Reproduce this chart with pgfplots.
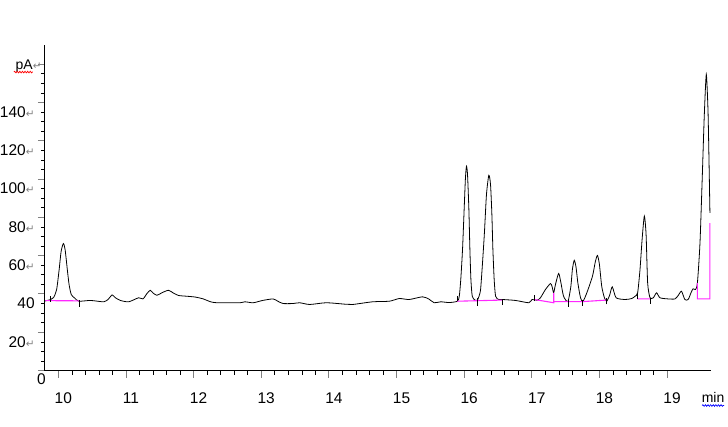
\documentclass[border=0pt]{standalone}
\usepackage{fontspec}
\setmainfont{Liberation Sans}
\newfontfamily\djv{DejaVu Sans}
\usepackage{pgfplots}
\pgfplotsset{compat=1.18}
\usetikzlibrary{decorations.pathmorphing}
\definecolor{base}{RGB}{255,40,255}
\newcommand\ret{{\djv\fontsize{10.5}{10.5}\selectfont\textcolor{gray}{↵}}}

\pgfplotstableread{
t v
9.80 36.3
9.887 37.1
9.93 38.1
9.975 42.3
10.012 52.7
10.041 62.1
10.074 66.3
10.10 63.2
10.133 52.7
10.159 44.9
10.191 39.7
10.24 37.9
10.303 36.2
10.476 36.6
10.672 35.9
10.74 37.3
10.795 39.5
10.84 38.1
10.917 36.6
11.04 35.9
11.187 38.0
11.252 37.4
11.31 40.2
11.359 41.9
11.40 40.5
11.458 39.3
11.536 40.7
11.629 41.9
11.70 40.5
11.776 39.2
11.90 38.8
12.02 38.4
12.144 37.4
12.243 36.0
12.342 35.4
12.685 35.4
12.759 35.9
12.881 35.4
13.02 36.6
13.175 37.4
13.24 36.3
13.322 35.0
13.47 35.0
13.568 35.4
13.716 34.5
13.962 35.4
14.256 34.6
14.353 34.5
14.648 35.9
14.894 36.2
15.041 37.6
15.188 37.1
15.384 38.5
15.48 37.3
15.557 35.4
15.655 35.9
15.778 35.5
15.90 36.2
15.928 38.8
15.95 47.5
15.976 63.2
16.00 84.1
16.018 99.7
16.034 106.7
16.05 102.3
16.07 84.1
16.085 63.2
16.10 47.5
16.12 38.8
16.16 36.8
16.193 36.6
16.218 38.6
16.243 42.3
16.27 55.4
16.30 72.1
16.33 91.9
16.365 102.0
16.39 97.1
16.41 81.5
16.425 63.2
16.444 47.5
16.465 38.8
16.51 37.1
16.562 37.1
16.76 36.6
16.956 35.4
17.004 37.1
17.078 36.7
17.128 38.0
17.202 42.3
17.275 45.4
17.30 43.9
17.323 40.6
17.35 44.9
17.397 50.7
17.43 46.0
17.47 38.8
17.534 36.0
17.578 44.0
17.60 52.7
17.628 57.6
17.655 53.8
17.681 45.8
17.72 38.1
17.755 36.0
17.814 40.6
17.897 49.2
17.94 56.9
17.971 60.1
18.0 55.4
18.034 44.0
18.074 38.0
18.108 36.2
18.15 39.2
18.19 43.7
18.247 38.0
18.38 37.1
18.477 37.6
18.527 38.8
18.565 40.6
18.60 52.7
18.631 68.4
18.664 80.6
18.69 71.0
18.713 45.8
18.748 38.0
18.797 38.0
18.845 40.6
18.895 38.0
19.017 37.4
19.116 37.4
19.165 39.2
19.213 41.4
19.263 37.1
19.312 37.1
19.355 40.7
19.385 42.7
19.42 42.3
19.449 45.8
19.487 66.7
19.521 101.5
19.55 132.8
19.58 154.6
19.605 136.3
19.62 110.2
19.634 82.3
}\trace

\begin{document}
\begin{tikzpicture}
\path (-44pt,-56pt) rectangle (684pt,371pt);
\begin{axis}[at={(0,0)},anchor=south west,
 scale only axis,width=667pt,height=326pt,
 xmin=9.8,xmax=19.65,ymin=0,ymax=170,
 axis x line=bottom,axis y line=left,axis line style={-,black,line width=0.8pt},
 xtick align=outside,ytick align=outside,
 xtick={10,...,19},minor x tick num=4,
 ytick={0,20,...,160},minor y tick num=3,
 yticklabels={{},20\ret,40,60\ret,80\ret,100\ret,120\ret,140\ret,{}},
 major tick length=7pt,minor tick length=4pt,
 major tick style={gray,line width=0.9pt},minor tick style={black,line width=0.6pt},
 tick label style={font=\fontsize{15.5}{18}\selectfont,inner sep=0pt},
 xticklabel style={anchor=base,xshift=5pt,yshift=-26pt},
 yticklabel style={anchor=base east,xshift=-3pt,yshift=-15pt},
 /pgf/number format/assume math mode=true,
 unbounded coords=jump,clip=false]
\addplot[black,line width=0.8pt,smooth,tension=0.4] table[x=t,y=v] {\trace};
% integration baselines
\addplot[base,line width=1.1pt] coordinates {(9.81,36.5)(10.315,36.4)
 (nan,nan)(15.90,36.2)(16.562,36.8)
 (nan,nan)(17.034,37.1)(17.325,35.4)(17.325,40.6)
 (nan,nan)(17.325,36.0)(17.755,36.0)(18.108,36.8)
 (nan,nan)(18.565,37.4)(18.748,37.4)
 (nan,nan)(19.449,45.8)(19.449,37.4)(19.634,37.4)(19.634,77.0)};
% peak start/end marks
\addplot[black,line width=0.8pt] coordinates {(9.89,36.0)(9.89,39.0)
 (nan,nan)(10.315,33.4)(10.315,36.6)
 (nan,nan)(15.90,36.2)(15.90,38.8)
 (nan,nan)(16.193,33.6)(16.193,38.0)
 (nan,nan)(16.562,34.1)(16.562,36.7)
 (nan,nan)(17.034,36.2)(17.034,39.2)
 (nan,nan)(17.534,33.3)(17.534,36.6)
 (nan,nan)(17.755,33.9)(17.755,36.6)
 (nan,nan)(18.108,34.5)(18.108,38.1)
 (nan,nan)(18.565,37.1)(18.565,40.7)
 (nan,nan)(18.748,35.0)(18.748,38.1)};
\coordinate (o) at (axis cs:9.8,0);
\coordinate (p) at (axis cs:9.8,160);
\coordinate (m) at (axis cs:19.65,0);
\end{axis}
\node[anchor=base east,inner sep=0pt,font=\fontsize{14}{16}\selectfont] at ([xshift=-3pt,yshift=-5pt]p) {pA\ret};
\draw[red,line width=0.7pt,decorate,decoration={snake,amplitude=0.8pt,segment length=2.6pt}]
 ([xshift=-31pt,yshift=-8pt]p) -- ([xshift=-12pt,yshift=-8pt]p);
\node[anchor=center,inner sep=0pt,font=\fontsize{15.5}{18}\selectfont] at ([xshift=-3.5pt,yshift=-9pt]o) {0};
\node[anchor=base,inner sep=0pt,font=\fontsize{14}{16}\selectfont] at ([xshift=2pt,yshift=-32pt]m) {min};
\draw[blue,line width=0.7pt,decorate,decoration={snake,amplitude=0.8pt,segment length=2.6pt}]
 ([xshift=-9pt,yshift=-35pt]m) -- ([xshift=13pt,yshift=-35pt]m);
\end{tikzpicture}
\end{document}
